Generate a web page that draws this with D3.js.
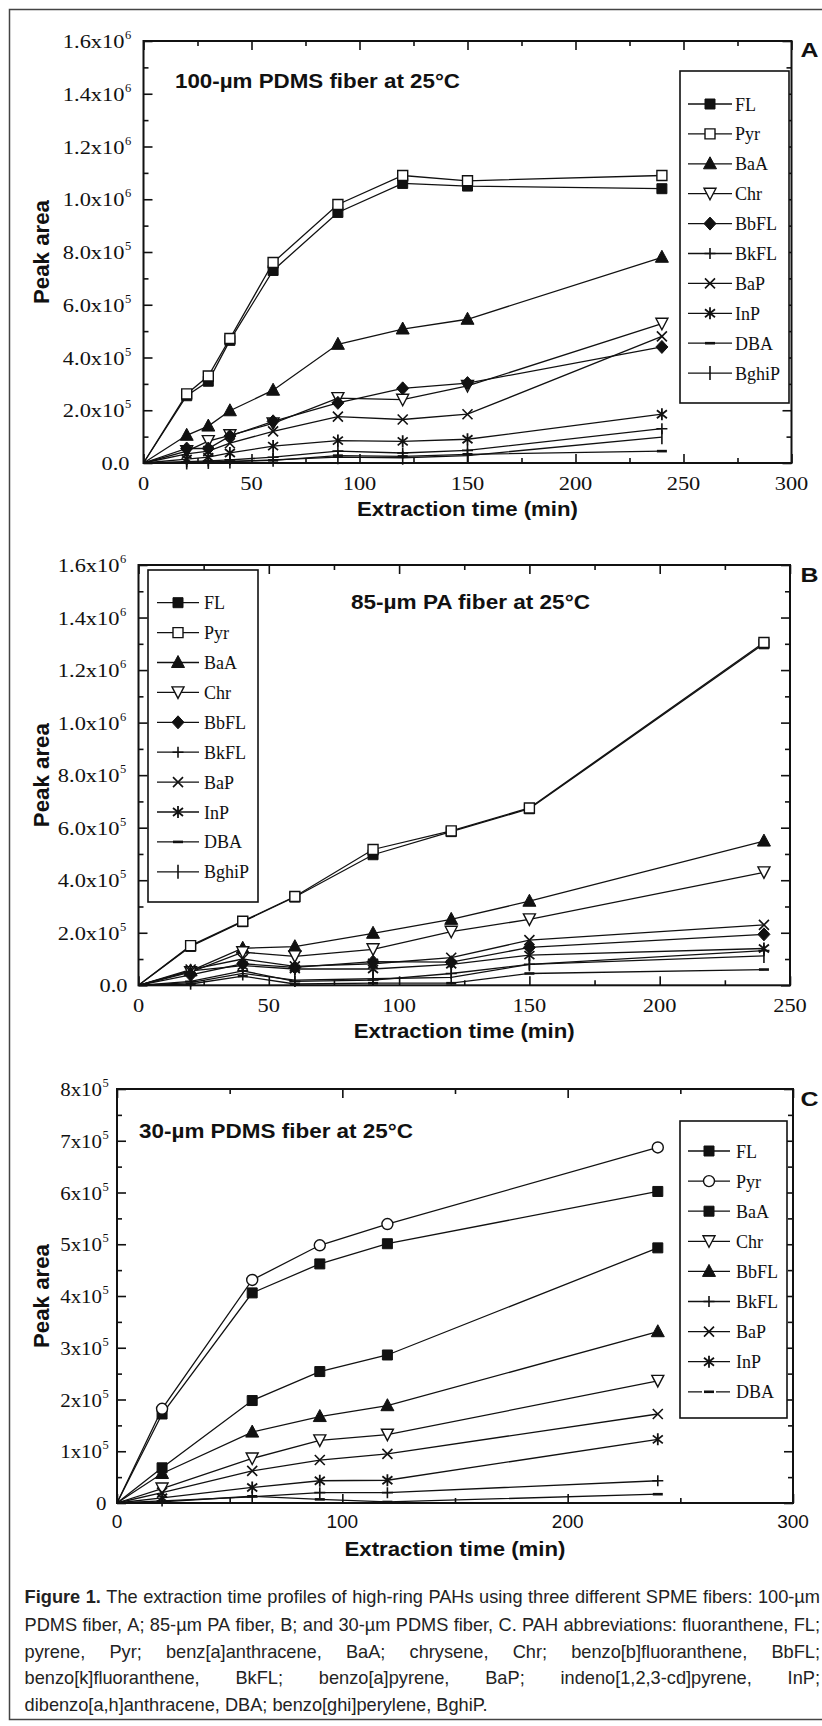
<!DOCTYPE html>
<html>
<head>
<meta charset="utf-8">
<script src="https://cdn.jsdelivr.net/npm/d3@7"></script>
<style>
  body { margin: 0; background: #fff; }
  svg { display: block; }
</style>
</head>
<body>
<script>
// ---------- data ----------
var namesAB = ["FL", "Pyr", "BaA", "Chr", "BbFL", "BkFL", "BaP", "InP", "DBA", "BghiP"];
var namesC = ["FL", "Pyr", "BaA", "Chr", "BbFL", "BkFL", "BaP", "InP", "DBA"];

// panel A: 100-um PDMS
var timesA = [0, 20, 30, 40, 60, 90, 120, 150, 240];
var flA    = [0, 2.55e5, 3.1e5, 4.65e5, 7.3e5, 9.5e5, 1.06e6, 1.05e6, 1.04e6];
var pyrA   = [0, 2.62e5, 3.3e5, 4.72e5, 7.6e5, 9.8e5, 1.09e6, 1.07e6, 1.09e6];
var baaA   = [0, 1.05e5, 1.4e5, 1.98e5, 2.76e5, 4.5e5, 5.08e5, 5.45e5, 7.8e5];
var chrA   = [0, 0.45e5, 0.83e5, 1.05e5, 1.5e5, 2.46e5, 2.4e5, 2.92e5, 5.28e5];
var bbflA  = [0, 0.55e5, 0.55e5, 1.02e5, 1.58e5, 2.28e5, 2.83e5, 3.03e5, 4.4e5];
var bkflA  = [0, 0.05e5, 0.08e5, 0.12e5, 0.22e5, 0.45e5, 0.38e5, 0.48e5, 1.3e5];
var bapA   = [0, 0.35e5, 0.45e5, 0.75e5, 1.2e5, 1.76e5, 1.65e5, 1.85e5, 4.8e5];
var inpA   = [0, 0.15e5, 0.22e5, 0.38e5, 0.64e5, 0.85e5, 0.82e5, 0.9e5, 1.85e5];
var dbaA   = [0, 0.02e5, 0.03e5, 0.05e5, 0.1e5, 0.28e5, 0.25e5, 0.33e5, 0.45e5];
var bghipA = [0, 0.02e5, 0.04e5, 0.06e5, 0.12e5, 0.22e5, 0.2e5, 0.28e5, 0.98e5];

// panel B: 85-um PA
var timesB = [0, 20, 40, 60, 90, 120, 150, 240];
var flB    = [0, 1.48e5, 2.42e5, 3.36e5, 4.97e5, 5.85e5, 6.72e5, 1.3e6];
var pyrB   = [0, 1.51e5, 2.44e5, 3.38e5, 5.17e5, 5.88e5, 6.75e5, 1.305e6];
var baaB   = [0, 0.55e5, 1.41e5, 1.47e5, 1.98e5, 2.51e5, 3.2e5, 5.49e5];
var chrB   = [0, 0.5e5, 1.26e5, 1.1e5, 1.37e5, 2.04e5, 2.51e5, 4.3e5];
var bbflB  = [0, 0.4e5, 0.82e5, 0.68e5, 0.9e5, 0.88e5, 1.44e5, 1.94e5];
var bkflB  = [0, 0.15e5, 0.55e5, 0.15e5, 0.2e5, 0.45e5, 0.8e5, 1.32e5];
var bapB   = [0, 0.6e5, 1.0e5, 0.72e5, 0.82e5, 1.05e5, 1.72e5, 2.3e5];
var inpB   = [0, 0.55e5, 0.75e5, 0.62e5, 0.62e5, 0.8e5, 1.15e5, 1.4e5];
var dbaB   = [0, 0.05e5, 0.35e5, 0.05e5, 0.08e5, 0.08e5, 0.45e5, 0.6e5];
var bghipB = [0, 0.1e5, 0.45e5, 0.2e5, 0.25e5, 0.3e5, 0.8e5, 1.12e5];

// panel C: 30-um PDMS
var timesC = [0, 20, 60, 90, 120, 240];
var flC   = [0, 1.72e5, 4.06e5, 4.62e5, 5.01e5, 6.02e5];
var pyrC  = [0, 1.82e5, 4.31e5, 4.98e5, 5.39e5, 6.87e5];
var baaC  = [0, 0.68e5, 1.98e5, 2.54e5, 2.86e5, 4.93e5];
var chrC  = [0, 0.28e5, 0.86e5, 1.21e5, 1.32e5, 2.36e5];
var bbflC = [0, 0.57e5, 1.37e5, 1.67e5, 1.88e5, 3.31e5];
var bkflC = [0, 0.04e5, 0.12e5, 0.2e5, 0.2e5, 0.43e5];
var bapC  = [0, 0.2e5, 0.62e5, 0.83e5, 0.95e5, 1.72e5];
var inpC  = [0, 0.1e5, 0.3e5, 0.43e5, 0.44e5, 1.23e5];
var dbaC  = [0, 0.02e5, 0.13e5, 0.07e5, 0.02e5, 0.17e5];

// tick values and labels
var xTicksA = [0, 50, 100, 150, 200, 250, 300];
var xTicksB = [0, 50, 100, 150, 200, 250];
var xTicksC = [0, 100, 200, 300];
var yTicksAB = [0, 2e5, 4e5, 6e5, 8e5, 1e6, 1.2e6, 1.4e6, 1.6e6];
var yLabelsAB = ["0.0", "2.0x10^5", "4.0x10^5", "6.0x10^5", "8.0x10^5", "1.0x10^6", "1.2x10^6", "1.4x10^6", "1.6x10^6"];
var yTicksC = [0, 1e5, 2e5, 3e5, 4e5, 5e5, 6e5, 7e5, 8e5];
var yLabelsC = ["0", "1x10^5", "2x10^5", "3x10^5", "4x10^5", "5x10^5", "6x10^5", "7x10^5", "8x10^5"];

var titleA = "100-\u00b5m PDMS fiber at 25\u00b0C";
var titleB = "85-\u00b5m PA fiber at 25\u00b0C";
var titleC = "30-\u00b5m PDMS fiber at 25\u00b0C";

var captionLines = [
  "Figure 1. The extraction time profiles of high-ring PAHs using three different SPME fibers: 100-\u00b5m",
  "PDMS fiber, A; 85-\u00b5m PA fiber, B; and 30-\u00b5m PDMS fiber, C. PAH abbreviations: fluoranthene, FL;",
  "pyrene, Pyr; benz[a]anthracene, BaA; chrysene, Chr; benzo[b]fluoranthene, BbFL;",
  "benzo[k]fluoranthene, BkFL; benzo[a]pyrene, BaP; indeno[1,2,3-cd]pyrene, InP;",
  "dibenzo[a,h]anthracene, DBA; benzo[ghi]perylene, BghiP."
];

// ---------- drawing ----------
var W = 822, H = 1726;
var SERIF = "'Liberation Serif','Times New Roman',serif";
var SANS = "'Liberation Sans',Arial,Helvetica,sans-serif";

var svg = d3.select("body").append("svg").attr("width", W).attr("height", H);

// outer frame of the figure (right side runs off the page)
svg.append("rect").attr("x", 9.5).attr("y", 9.5).attr("width", 900).attr("height", 1710)
  .attr("fill", "none").attr("stroke", "#444").attr("stroke-width", 1.5);

function sym(fn) { return { draw: function(c) { fn(c); } }; }
var symTypes = {
  sq: sym(function(c) { c.rect(-5, -5, 10, 10); }),
  tri: sym(function(c) { c.moveTo(0, -7); c.lineTo(6.5, 5); c.lineTo(-6.5, 5); c.closePath(); }),
  triDown: sym(function(c) { c.moveTo(0, 6); c.lineTo(6, -5.5); c.lineTo(-6, -5.5); c.closePath(); }),
  dia: sym(function(c) { c.moveTo(0, -6.5); c.lineTo(6, 0); c.lineTo(0, 6.5); c.lineTo(-6, 0); c.closePath(); }),
  circ: sym(function(c) { c.moveTo(5.5, 0); c.arc(0, 0, 5.5, 0, 2 * Math.PI); }),
  plus: sym(function(c) { c.moveTo(-5.5, 0); c.lineTo(5.5, 0); c.moveTo(0, -5.5); c.lineTo(0, 5.5); }),
  x: sym(function(c) { c.moveTo(-5, -5); c.lineTo(5, 5); c.moveTo(-5, 5); c.lineTo(5, -5); }),
  ast: sym(function(c) {
    c.moveTo(0, -6); c.lineTo(0, 6);
    c.moveTo(-5, -4); c.lineTo(5, 4); c.moveTo(-5, 4); c.lineTo(5, -4);
  }),
  dash: sym(function(c) { c.moveTo(-5, 0); c.lineTo(5, 0); }),
  bar: sym(function(c) { c.moveTo(0, -7); c.lineTo(0, 7); })
};
// fill / stroke width for each marker kind
var markStyle = {
  sq: ["#111", 1], sqOpen: ["#fff", 1.4], tri: ["#111", 1], triDown: ["#fff", 1.4],
  dia: ["#111", 1], circ: ["#fff", 1.4], plus: ["none", 1.6], x: ["none", 1.6],
  ast: ["none", 1.8], dash: ["none", 2.6], bar: ["none", 1.6]
};
function markPath(k) { return d3.symbol(symTypes[k === "sqOpen" ? "sq" : k])(); }

var marksAB = ["sq", "sqOpen", "tri", "triDown", "dia", "plus", "x", "ast", "dash", "bar"];
var marksC = ["sq", "circ", "sq", "triDown", "tri", "plus", "x", "ast", "dash"];

var panels = [
  { letter: "A", title: titleA, times: timesA, names: namesAB, marks: marksAB,
    values: [flA, pyrA, baaA, chrA, bbflA, bkflA, bapA, inpA, dbaA, bghipA],
    xMax: 300, xTicks: xTicksA, xMinor: d3.range(25, 300, 50),
    yMax: 1.6e6, yTicks: yTicksAB, yLabels: yLabelsAB, yMinor: d3.range(1e5, 1.6e6, 2e5) },
  { letter: "B", title: titleB, times: timesB, names: namesAB, marks: marksAB,
    values: [flB, pyrB, baaB, chrB, bbflB, bkflB, bapB, inpB, dbaB, bghipB],
    xMax: 250, xTicks: xTicksB, xMinor: d3.range(25, 250, 50),
    yMax: 1.6e6, yTicks: yTicksAB, yLabels: yLabelsAB, yMinor: d3.range(1e5, 1.6e6, 2e5) },
  { letter: "C", title: titleC, times: timesC, names: namesC, marks: marksC,
    values: [flC, pyrC, baaC, chrC, bbflC, bkflC, bapC, inpC, dbaC],
    xMax: 300, xTicks: xTicksC, xMinor: [50, 150, 250],
    yMax: 8e5, yTicks: yTicksC, yLabels: yLabelsC, yMinor: d3.range(0.5e5, 8e5, 1e5) }
];

// geometry for each panel
var layouts = [
  { x0: 143.5, x1: 791.5, y0: 41, y1: 463, mainGap: 19, zeroGap: 14, stretch: 1.18, xSans: false,
    titleX: 175, titleY: 88, titleW: 285, letterY: 57,
    leg: { x: 680, y: 71, w: 109, h: 332, first: 104, step: 29.9, lx0: 688, lx1: 732, mx: 710, tx: 735 } },
  { x0: 138.5, x1: 790, y0: 565, y1: 985.3, mainGap: 19, zeroGap: 11, stretch: 1.18, xSans: false,
    titleX: 351, titleY: 609, titleW: 239, letterY: 582,
    leg: { x: 148, y: 570, w: 110, h: 332, first: 602.7, step: 29.9, lx0: 157, lx1: 199, mx: 178, tx: 204 } },
  { x0: 117, x1: 793, y0: 1089, y1: 1503, mainGap: 15, zeroGap: 10.5, stretch: 1.1, xSans: true,
    titleX: 139, titleY: 1138, titleW: 274, letterY: 1106,
    leg: { x: 680, y: 1121, w: 107, h: 297, first: 1151, step: 30.1, lx0: 688, lx1: 730, mx: 709, tx: 736 } }
];

function stretchedText(sel, stretch) {
  var w = sel.node().getComputedTextLength();
  sel.attr("textLength", w * stretch).attr("lengthAdjust", "spacingAndGlyphs");
  return w * stretch;
}

panels.forEach(function(p, pi) {
  var L = layouts[pi];
  var x = d3.scaleLinear().domain([0, p.xMax]).range([L.x0, L.x1]);
  var y = d3.scaleLinear().domain([0, p.yMax]).range([L.y1, L.y0]);
  var g = svg.append("g");

  var line = d3.line().x(function(d) { return x(d[0]); }).y(function(d) { return y(d[1]); });

  var series = p.values.map(function(vals, si) {
    return { name: p.names[si], mark: p.marks[si],
      pts: p.times.map(function(t, i) { return [t, vals[i]]; }) };
  });

  // lines
  g.selectAll("path.ln").data(series).enter().append("path")
    .attr("class", "ln")
    .attr("d", function(s) { return line(s.pts); })
    .attr("fill", "none").attr("stroke", "#111").attr("stroke-width", 1.3);

  // markers (skip the origin point)
  series.forEach(function(s) {
    var st = markStyle[s.mark];
    g.selectAll(null).data(s.pts.slice(1)).enter().append("path")
      .attr("transform", function(d) { return "translate(" + x(d[0]) + "," + y(d[1]) + ")"; })
      .attr("d", markPath(s.mark))
      .attr("fill", st[0]).attr("stroke", "#111").attr("stroke-width", st[1]);
  });

  // ticks on all four sides, pointing inward
  function tickSet(axisFn, scale, vals, len, tr) {
    g.append("g").attr("transform", tr)
      .call(axisFn(scale).tickValues(vals).tickSize(-len).tickFormat(function() { return ""; }))
      .call(function(s) { s.select(".domain").remove(); })
      .selectAll("line").attr("stroke", "#111").attr("stroke-width", 1.6);
  }
  [[p.xTicks, 9], [p.xMinor, 5]].forEach(function(t) {
    tickSet(d3.axisBottom, x, t[0], t[1], "translate(0," + L.y1 + ")");
    tickSet(d3.axisTop, x, t[0], t[1], "translate(0," + L.y0 + ")");
  });
  [[p.yTicks, 9], [p.yMinor, 5]].forEach(function(t) {
    tickSet(d3.axisLeft, y, t[0], t[1], "translate(" + L.x0 + ",0)");
    tickSet(d3.axisRight, y, t[0], t[1], "translate(" + L.x1 + ",0)");
  });

  // legend
  var lg = L.leg;
  g.append("rect").attr("x", lg.x).attr("y", lg.y).attr("width", lg.w).attr("height", lg.h)
    .attr("fill", "#fff").attr("stroke", "#111").attr("stroke-width", 1.6);
  series.forEach(function(s, i) {
    var ly = lg.first + i * lg.step;
    var ll = g.append("line").attr("x1", lg.lx0).attr("x2", lg.lx1).attr("y1", ly).attr("y2", ly)
      .attr("stroke", "#111").attr("stroke-width", 1.3);
    if (p.letter === "C" && s.name === "DBA") ll.attr("stroke-dasharray", "14,3,8,3,14");
    var st = markStyle[s.mark];
    g.append("path").attr("transform", "translate(" + lg.mx + "," + ly + ")")
      .attr("d", markPath(s.mark))
      .attr("fill", st[0]).attr("stroke", "#111").attr("stroke-width", st[1]);
    g.append("text").attr("x", lg.tx).attr("y", ly + 6.5)
      .attr("font-family", SERIF).attr("font-size", 18).attr("fill", "#111").text(s.name);
  });

  // frame
  g.append("rect").attr("x", L.x0).attr("y", L.y0).attr("width", L.x1 - L.x0).attr("height", L.y1 - L.y0)
    .attr("fill", "none").attr("stroke", "#111").attr("stroke-width", 2);

  // y tick labels: mantissa x10 with superscript exponent
  p.yTicks.forEach(function(t, i) {
    var parts = p.yLabels[i].split("^");
    var ty = y(t) + 7;
    var mt = g.append("text").attr("y", ty).attr("font-family", SERIF).attr("font-size", 19)
      .attr("fill", "#111").text(parts[0]);
    var w = stretchedText(mt, L.stretch);
    var endX = L.x0 - (parts.length > 1 ? L.mainGap : L.zeroGap);
    mt.attr("x", endX - w);
    if (parts.length > 1) {
      g.append("text").attr("x", endX + 0.5).attr("y", ty - 9)
        .attr("font-family", SERIF).attr("font-size", 12.5).attr("fill", "#111").text(parts[1]);
    }
  });

  // x tick labels
  p.xTicks.forEach(function(t) {
    var xt = g.append("text").attr("y", L.y1 + (L.xSans ? 25 : 27)).attr("fill", "#111")
      .attr("font-family", L.xSans ? SANS : SERIF).attr("font-size", 19).text(t);
    var w = L.xSans ? xt.node().getComputedTextLength() : stretchedText(xt, L.stretch);
    xt.attr("x", x(t) - w / 2);
  });

  // axis titles
  var xl = g.append("text").attr("y", L.y1 + 53).attr("font-family", SANS).attr("font-weight", "bold")
    .attr("font-size", 21).attr("fill", "#111").attr("text-anchor", "middle")
    .attr("x", (L.x0 + L.x1) / 2).text("Extraction time (min)");
  xl.attr("textLength", 221).attr("lengthAdjust", "spacingAndGlyphs");

  g.append("text")
    .attr("transform", "translate(49," + ((L.y0 + L.y1) / 2) + ") rotate(-90)")
    .attr("text-anchor", "middle").attr("font-family", SANS).attr("font-weight", "bold")
    .attr("font-size", 22).attr("fill", "#111")
    .attr("textLength", 104).attr("lengthAdjust", "spacingAndGlyphs").text("Peak area");

  // panel title and letter
  g.append("text").attr("x", L.titleX).attr("y", L.titleY).attr("font-family", SANS)
    .attr("font-weight", "bold").attr("font-size", 20).attr("fill", "#111")
    .attr("textLength", L.titleW).attr("lengthAdjust", "spacingAndGlyphs").text(p.title);
  g.append("text").attr("x", 800.5).attr("y", L.letterY).attr("font-family", SANS)
    .attr("font-weight", "bold").attr("font-size", 20).attr("fill", "#111")
    .attr("textLength", 18).attr("lengthAdjust", "spacingAndGlyphs").text(p.letter);
});

// ---------- caption (condensed, justified) ----------
var capFont = 19, capX0 = 24.6, capX1 = 820;
var capBase = [1603, 1630.5, 1657.5, 1684, 1711];
var probe = svg.append("text").attr("font-family", SANS).attr("font-size", capFont).text(captionLines[4]);
var k = 463 / probe.node().getComputedTextLength();
probe.remove();
var spaceW = 0.278 * capFont * k;

captionLines.forEach(function(line, li) {
  var words = line.split(" ");
  var nodes = words.map(function(wd, wi) {
    var bold = li === 0 && wi < 2;
    var t = svg.append("text").attr("y", capBase[li]).attr("font-family", SANS)
      .attr("font-size", capFont).attr("font-weight", bold ? "bold" : "normal")
      .attr("fill", "#222").text(wd);
    var w = t.node().getComputedTextLength() * k;
    t.attr("textLength", w).attr("lengthAdjust", "spacingAndGlyphs");
    return { t: t, w: w };
  });
  var total = d3.sum(nodes, function(n) { return n.w; });
  var gap = li < captionLines.length - 1
    ? Math.max(2, (capX1 - capX0 - total) / (words.length - 1)) : spaceW;
  // last line keeps natural spacing; the rest are justified to the column edge
  var cx = capX0;
  nodes.forEach(function(n) { n.t.attr("x", cx); cx += n.w + gap; });
});
</script>
</body>
</html>
